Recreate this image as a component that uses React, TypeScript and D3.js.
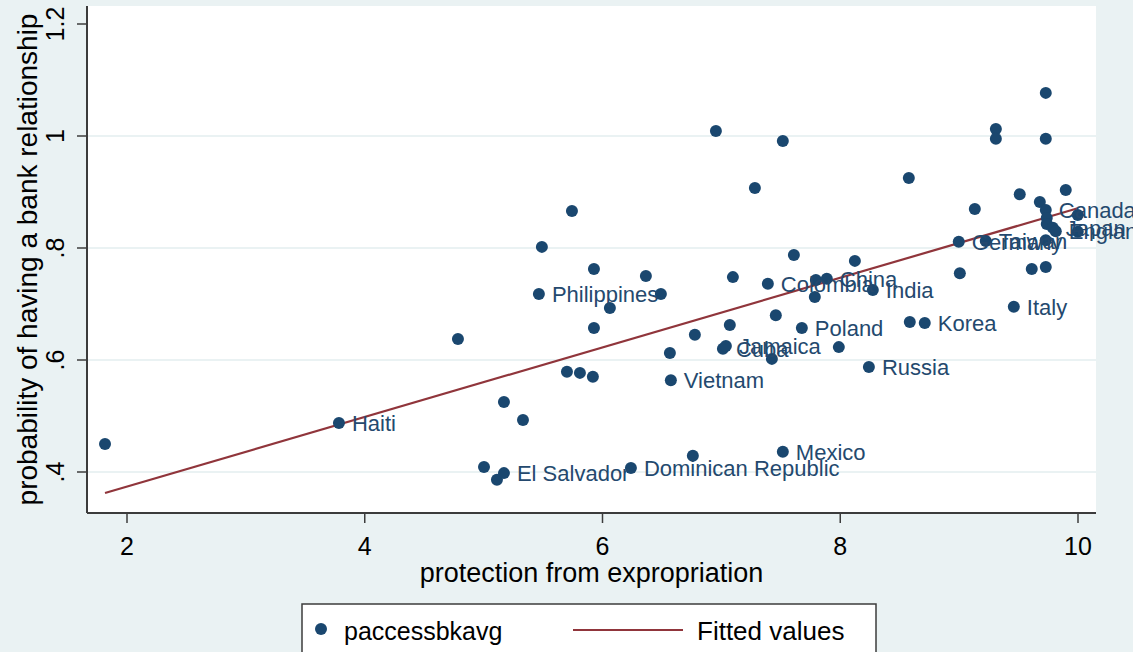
import React from 'react';
import * as d3 from 'd3';

// protection from expropriation (x) and probability of bank relationship (y)
const protection = [
  1.815, 3.783, 4.784, 5.003, 5.112, 5.171, 5.171, 5.331, 5.49, 5.743,
  5.465, 5.928, 6.365, 6.491, 6.062, 5.928, 5.701, 5.81, 5.919, 6.567,
  6.777, 7.071, 7.013, 7.038, 7.425, 7.458, 6.575, 6.76, 6.239, 7.517,
  6.954, 7.282, 7.517, 7.097, 7.391, 7.61, 8.123, 7.795, 7.887, 8.274,
  7.786, 7.677, 7.988, 8.241, 8.585, 8.711, 9.46, 8.577, 9.309, 9.309,
  9.729, 9.729, 9.897, 9.51, 9.132, 9.679, 9.729, 9.737, 9.737, 9.788,
  9.813, 9.998, 9.998, 8.997, 9.224, 9.729, 9.006, 9.611, 9.729,
];
const bankAccess = [
  0.45, 0.4875, 0.6375, 0.409, 0.386, 0.398, 0.525, 0.493, 0.802, 0.866,
  0.718, 0.7625, 0.75, 0.718, 0.693, 0.657, 0.579, 0.577, 0.57, 0.6125,
  0.645, 0.6625, 0.62, 0.625, 0.602, 0.68, 0.564, 0.429, 0.407, 0.436,
  1.009, 0.907, 0.991, 0.748, 0.736, 0.7875, 0.777, 0.743, 0.745, 0.725,
  0.7125, 0.657, 0.623, 0.5875, 0.668, 0.666, 0.695, 0.925, 1.0125, 0.995,
  1.077, 0.995, 0.9036, 0.896, 0.8696, 0.882, 0.868, 0.8536, 0.843, 0.836,
  0.83, 0.859, 0.829, 0.811, 0.8125, 0.814, 0.755, 0.7625, 0.766,
];
const countryLabels = [
  '', 'Haiti', '', '', '', 'El Salvador', '', '', '', '',
  'Philippines', '', '', '', '', '', '', '', '', '',
  '', '', 'Cuba', 'Jamaica', '', '', 'Vietnam', '', 'Dominican Republic', 'Mexico',
  '', '', '', '', 'Colombia', '', '', '', 'China', 'India',
  '', 'Poland', '', 'Russia', '', 'Korea', 'Italy', '', '', '',
  '', '', '', '', '', '', 'Canada', '', '', 'Japan',
  'England', '', '', 'Germany', 'Taiwan', '', '', '', '',
];

const fittedX = [1.815, 9.998];
const fittedY = [0.3625, 0.871];

const xTicks = [2, 4, 6, 8, 10];
const yTicks = [0.4, 0.6, 0.8, 1, 1.2];
const yTickLabels = ['.4', '.6', '.8', '1', '1.2'];

const W = 1133;
const H = 652;
const FONT = '"Liberation Sans", Arial, sans-serif';
const NAVY = '#1a476f';
const MAROON = '#90353b';
const BG = '#eaf2f3';

export default function App() {
  const x = d3.scaleLinear().domain([2, 10]).range([127, 1078]);
  const y = d3.scaleLinear().domain([0.4, 1.2]).range([472, 24]);

  const left = 87;
  const right = 1096;
  const top = 6;
  const bottom = 513;

  const line = d3
    .line<number>()
    .x((d, i) => x(fittedX[i]))
    .y((d) => y(d));

  return (
    <svg
      width={W}
      height={H}
      style={{ position: 'absolute', left: 0, top: 0, display: 'block' }}
      fontFamily={FONT}
    >
      <rect x={0} y={0} width={W} height={H} fill={BG} />
      <rect x={left} y={top} width={right - left} height={bottom - top} fill="#ffffff" />

      {/* gridlines */}
      {yTicks.slice(0, 4).map((t) => (
        <line key={t} x1={left} x2={right} y1={y(t)} y2={y(t)} stroke={BG} strokeWidth={2} />
      ))}

      {/* fitted line */}
      <path d={line(fittedY) || ''} fill="none" stroke={MAROON} strokeWidth={2.2} />

      {/* points */}
      {protection.map((px, i) => (
        <circle key={i} cx={x(px)} cy={y(bankAccess[i])} r={6} fill={NAVY} />
      ))}
      {protection.map((px, i) =>
        countryLabels[i] ? (
          <text
            key={'l' + i}
            x={x(px) + 13}
            y={y(bankAccess[i]) + 2}
            dominantBaseline="middle"
            fontSize={22}
            fill="#24496e"
          >
            {countryLabels[i]}
          </text>
        ) : null
      )}

      {/* axes */}
      <line x1={left} x2={left} y1={top} y2={bottom} stroke="#3c3c3c" strokeWidth={2} />
      <line x1={left} x2={right} y1={bottom} y2={bottom} stroke="#3c3c3c" strokeWidth={2} />

      {yTicks.map((t, i) => (
        <g key={'yt' + t}>
          <line x1={left - 10} x2={left} y1={y(t)} y2={y(t)} stroke="#3c3c3c" strokeWidth={1.5} />
          <text
            transform={`translate(64,${y(t)}) rotate(-90)`}
            textAnchor="middle"
            fontSize={25}
            fill="#000"
          >
            {yTickLabels[i]}
          </text>
        </g>
      ))}
      {xTicks.map((t) => (
        <g key={'xt' + t}>
          <line x1={x(t)} x2={x(t)} y1={bottom} y2={bottom + 10} stroke="#3c3c3c" strokeWidth={1.5} />
          <text x={x(t)} y={555} textAnchor="middle" fontSize={25} fill="#000">
            {t}
          </text>
        </g>
      ))}

      {/* axis titles */}
      <text
        transform={`translate(37,${(top + bottom) / 2}) rotate(-90)`}
        textAnchor="middle"
        fontSize={28}
        fill="#000"
      >
        probability of having a bank relationship
      </text>
      <text x={(left + right) / 2} y={582} textAnchor="middle" fontSize={27} fill="#000">
        protection from expropriation
      </text>

      {/* legend */}
      <rect x={302} y={604} width={574} height={70} fill="#ffffff" stroke="#3c3c3c" strokeWidth={1.5} />
      <circle cx={321} cy={629} r={6} fill={NAVY} />
      <text x={344} y={640} fontSize={25} fill="#000">
        paccessbkavg
      </text>
      <line x1={573} x2={683} y1={630} y2={630} stroke={MAROON} strokeWidth={2.2} />
      <text x={697} y={640} fontSize={26} fill="#000">
        Fitted values
      </text>
    </svg>
  );
}
